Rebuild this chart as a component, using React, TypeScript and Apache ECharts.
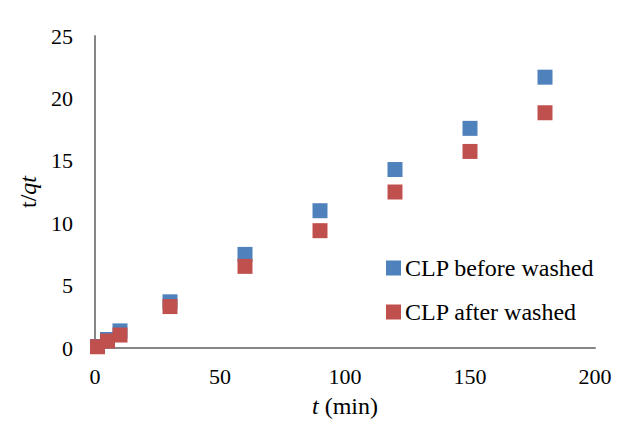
import React, { useEffect, useRef } from "react";
import * as echarts from "echarts";

// Contact time (min)
const times = [1, 5, 10, 30, 60, 90, 120, 150, 180];
// t/qt values for each sample
const beforeWashed = [0.12, 0.68, 1.37, 3.7, 7.5, 11.0, 14.3, 17.6, 21.7];
const afterWashed = [0.1, 0.56, 1.04, 3.32, 6.54, 9.4, 12.5, 15.75, 18.85];

const seriesNames = ["CLP before washed", "CLP after washed"];
const FONT = "Times New Roman, Liberation Serif, serif";

export default function App() {
  const ref = useRef<HTMLDivElement>(null);

  useEffect(() => {
    if (!ref.current) return;
    const chart = echarts.init(ref.current, null, { renderer: "svg" });
    const pair = (ys: number[]) => times.map((t, i) => [t, ys[i]]);
    const tick = { fontFamily: FONT, fontSize: 22, color: "#000" };
    const title = { fontFamily: FONT, fontSize: 24, color: "#000" };
    chart.setOption({
      animation: false,
      backgroundColor: "#ffffff",
      textStyle: { fontFamily: FONT },
      grid: { left: 95, right: 39, top: 36, bottom: 100 },
      legend: {
        orient: "vertical",
        left: 381,
        top: 251,
        padding: 5,
        icon: "rect",
        itemWidth: 15,
        itemHeight: 15,
        itemGap: 20,
        textStyle: { fontFamily: FONT, fontSize: 24, color: "#000", padding: [0, 0, 0, -1] },
        data: seriesNames,
      },
      xAxis: {
        type: "value",
        min: 0,
        max: 200,
        interval: 50,
        name: "{i|t} (min)",
        nameLocation: "middle",
        nameGap: 46,
        nameTextStyle: { ...title, rich: { i: { ...title, fontStyle: "italic" } } },
        axisLine: { lineStyle: { color: "#868686", width: 2 } },
        axisTick: { show: false },
        splitLine: { show: false },
        axisLabel: { ...tick, margin: 17 },
      },
      yAxis: {
        type: "value",
        min: 0,
        max: 25,
        interval: 5,
        name: "t/{i|qt}",
        nameLocation: "middle",
        nameGap: 47,
        nameRotate: 90,
        nameTextStyle: { ...title, rich: { i: { ...title, fontStyle: "italic" } } },
        axisLine: { show: true, lineStyle: { color: "#868686", width: 2 } },
        axisTick: { show: false },
        splitLine: { show: false },
        axisLabel: { ...tick, margin: 22 },
      },
      series: [
        {
          name: seriesNames[0],
          type: "scatter",
          symbol: "rect",
          symbolSize: 15,
          itemStyle: { color: "#4F81BD", opacity: 1 },
          data: pair(beforeWashed),
        },
        {
          name: seriesNames[1],
          type: "scatter",
          symbol: "rect",
          symbolSize: 15,
          itemStyle: { color: "#C0504D", opacity: 1 },
          data: pair(afterWashed),
        },
      ],
    });
    return () => chart.dispose();
  }, []);

  return <div ref={ref} style={{ width: 634, height: 448, margin: -8 }} />;
}
